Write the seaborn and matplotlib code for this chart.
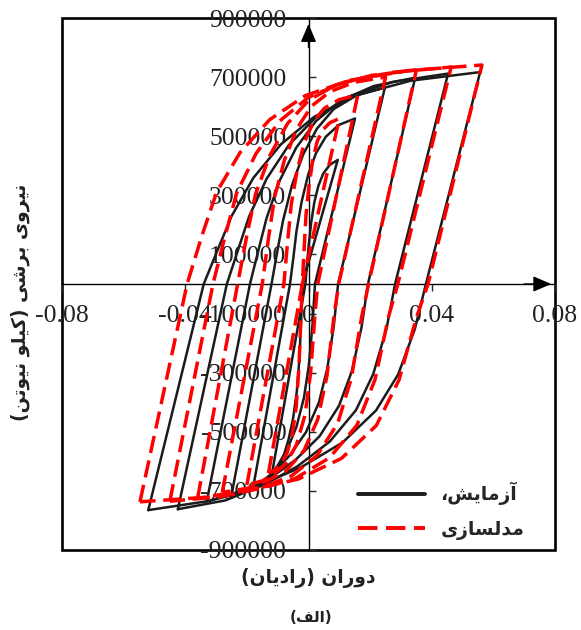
import numpy as np
import pandas as pd
import seaborn as sns
import matplotlib.pyplot as plt

# Hysteresis loops: rotation (rad) and shear force (x1000)
# each loop: negative peak -> up branch -> positive peak -> down branch -> negative peak
test_loops_x = [
    [-0.052, -0.034, -0.0295, -0.0250, -0.0179, -0.0089, 0.0019, 0.0153, 0.0333, 0.0557,
     0.0381, 0.0345, 0.0291, 0.0219, 0.0111, -0.0024, -0.0160, -0.0322, -0.052],
    [-0.0424, -0.0265, -0.0229, -0.0193, -0.0136, -0.0064, 0.0022, 0.0130, 0.0274, 0.0453,
     0.0281, 0.0253, 0.0210, 0.0154, 0.0069, -0.0036, -0.0142, -0.0269, -0.0424],
    [-0.0330, -0.0190, -0.0163, -0.0136, -0.0094, -0.0040, 0.0024, 0.0105, 0.0212, 0.0346,
     0.0193, 0.0172, 0.0141, 0.0099, 0.0036, -0.0042, -0.0121, -0.0215, -0.0330],
    [-0.0250, -0.0120, -0.0102, -0.0083, -0.0054, -0.0017, 0.0027, 0.0082, 0.0156, 0.0248,
     0.0096, 0.0082, 0.0061, 0.0034, -0.0008, -0.0060, -0.0112, -0.0174, -0.0250],
    [-0.0180, -0.0060, -0.0049, -0.0039, -0.0022, -0.0001, 0.0024, 0.0056, 0.0098, 0.0151,
     0.0021, 0.0013, 0.0001, -0.0015, -0.0039, -0.0069, -0.0100, -0.0136, -0.0180],
    [-0.0120, -0.0010, -0.0005, 0.0001, 0.0009, 0.0019, 0.0032, 0.0048, 0.0069, 0.0095,
     -0.0020, -0.0024, -0.0030, -0.0038, -0.0050, -0.0065, -0.0080, -0.0098, -0.0120],
]
test_loops_y = [
    [-765, 0, 115, 229, 359, 473, 566, 638, 688, 717, 0, -153, -306, -428, -536, -620, -681, -734, -765],
    [-762, 0, 114, 228, 356, 470, 562, 634, 684, 712, 0, -152, -305, -427, -533, -617, -678, -732, -762],
    [-735, 0, 112, 223, 349, 461, 551, 621, 670, 698, 0, -147, -294, -412, -515, -595, -654, -706, -735],
    [-715, 0, 106, 213, 333, 439, 525, 592, 638, 665, 0, -143, -286, -400, -501, -579, -636, -686, -715],
    [-690, 0, 90, 179, 280, 370, 442, 498, 538, 560, 0, -138, -276, -386, -483, -559, -614, -662, -690],
    [-650, 0, 67, 134, 210, 277, 332, 374, 403, 420, 0, -130, -260, -364, -455, -527, -579, -624, -650],
]
model_loops_x = [
    [-0.0547, -0.0394, -0.0346, -0.0298, -0.0222, -0.0126, -0.0011, 0.0132, 0.0324, 0.0563,
     0.0388, 0.0351, 0.0294, 0.0220, 0.0107, -0.0033, -0.0173, -0.0341, -0.0547],
    [-0.0450, -0.0310, -0.0271, -0.0233, -0.0171, -0.0094, -0.0001, 0.0115, 0.0270, 0.0463,
     0.0290, 0.0260, 0.0216, 0.0157, 0.0068, -0.0043, -0.0154, -0.0287, -0.0450],
    [-0.0360, -0.0230, -0.0201, -0.0172, -0.0126, -0.0068, 0.0002, 0.0089, 0.0205, 0.0350,
     0.0195, 0.0173, 0.0139, 0.0095, 0.0028, -0.0055, -0.0138, -0.0238, -0.0360],
    [-0.0280, -0.0150, -0.0130, -0.0110, -0.0078, -0.0038, 0.0010, 0.0070, 0.0150, 0.0250,
     0.0098, 0.0083, 0.0060, 0.0030, -0.0015, -0.0072, -0.0129, -0.0197, -0.0280],
    [-0.0200, -0.0080, -0.0068, -0.0056, -0.0037, -0.0013, 0.0016, 0.0052, 0.0100, 0.0160,
     0.0030, 0.0021, 0.0007, -0.0011, -0.0039, -0.0074, -0.0108, -0.0149, -0.0200],
    [-0.0130, -0.0020, -0.0014, -0.0008, 0.0002, 0.0014, 0.0028, 0.0046, 0.0070, 0.0100,
     -0.0020, -0.0024, -0.0031, -0.0040, -0.0053, -0.0070, -0.0086, -0.0106, -0.0130],
]
model_loops_y = [
    [-737, 0, 163, 311, 445, 556, 637, 689, 722, 741, 0, -111, -324, -479, -590, -660, -693, -722, -737],
    [-735, 0, 161, 308, 440, 551, 631, 683, 716, 734, 0, -110, -323, -478, -588, -658, -691, -720, -735],
    [-725, 0, 159, 304, 434, 543, 623, 673, 706, 724, 0, -109, -319, -471, -580, -649, -682, -711, -725],
    [-705, 0, 154, 294, 420, 525, 602, 651, 683, 700, 0, -106, -310, -458, -564, -631, -663, -691, -705],
    [-680, 0, 141, 269, 384, 480, 550, 595, 624, 640, 0, -102, -299, -442, -544, -609, -639, -666, -680],
    [-640, 0, 123, 235, 336, 420, 482, 521, 546, 560, 0, -96, -282, -416, -512, -573, -602, -627, -640],
]

x_ticks = [-0.08, -0.04, 0, 0.04, 0.08]
x_ticklabels = ['-0.08', '-0.04', '0', '0.04', '0.08']
y_ticks = [900000, 700000, 500000, 300000, 100000, -100000, -300000, -500000, -700000, -900000]

label_test = 'آزمایش،'
label_model = 'مدلسازی'
x_title = 'دوران (رادیان)'
y_title = 'نیروی برشی (کیلو نیوتن)'
caption = '(الف)'

# matplotlib has no arabic shaping, so pick presentation forms by hand
FORMS = {
    'ا': ('\uFE8D', '\uFE8E', None, None),
    'آ': ('\uFE81', '\uFE82', None, None),
    'ب': ('\uFE8F', '\uFE90', '\uFE91', '\uFE92'),
    'ت': ('\uFE95', '\uFE96', '\uFE97', '\uFE98'),
    'د': ('\uFEA9', '\uFEAA', None, None),
    'ر': ('\uFEAD', '\uFEAE', None, None),
    'ز': ('\uFEAF', '\uFEB0', None, None),
    'س': ('\uFEB1', '\uFEB2', '\uFEB3', '\uFEB4'),
    'ش': ('\uFEB5', '\uFEB6', '\uFEB7', '\uFEB8'),
    'ف': ('\uFED1', '\uFED2', '\uFED3', '\uFED4'),
    'ل': ('\uFEDD', '\uFEDE', '\uFEDF', '\uFEE0'),
    'م': ('\uFEE1', '\uFEE2', '\uFEE3', '\uFEE4'),
    'ن': ('\uFEE5', '\uFEE6', '\uFEE7', '\uFEE8'),
    'و': ('\uFEED', '\uFEEE', None, None),
    'ی': ('\uFBFC', '\uFBFD', '\uFBFE', '\uFBFF'),
    'ک': ('\uFB8E', '\uFB8F', '\uFB90', '\uFB91'),
}


def rtl(s):
    out = []
    for i, ch in enumerate(s):
        if ch not in FORMS:
            out.append(ch)
            continue
        prev = s[i - 1] if i > 0 else ''
        nxt = s[i + 1] if i + 1 < len(s) else ''
        iso, fin, ini, med = FORMS[ch]
        jp = prev in FORMS and FORMS[prev][2] is not None
        jn = ini is not None and nxt in FORMS
        if jp and jn:
            out.append(med)
        elif jp:
            out.append(fin)
        elif jn:
            out.append(ini)
        else:
            out.append(iso)
    mirror = {'(': ')', ')': '('}
    return ''.join(mirror.get(c, c) for c in reversed(out))


name_test = rtl(label_test)
name_model = rtl(label_model)

rows = []
for name, lx, ly in [(name_test, test_loops_x, test_loops_y),
                     (name_model, model_loops_x, model_loops_y)]:
    for k, (xs, ys) in enumerate(zip(lx, ly)):
        for j, (xv, yv) in enumerate(zip(xs, ys)):
            rows.append({'series': name, 'loop': k, 'step': j, 'rot': xv, 'shear': yv * 1000})
df = pd.DataFrame(rows)

sns.set_style('white')
plt.rcParams['axes.unicode_minus'] = False
serif = 'Liberation Serif'
fa = 'DejaVu Sans'

fig = plt.figure(figsize=(5.81, 6.30), dpi=100)
ax = fig.add_axes([62 / 581, 1 - 550 / 630, 493 / 581, 532 / 630])

sns.lineplot(data=df, x='rot', y='shear', hue='series', style='series', size='series',
             units='loop', estimator=None, sort=False, ax=ax,
             palette={name_test: '#1c1c1c', name_model: '#ff0000'},
             dashes={name_test: '', name_model: (5, 2.2)},
             sizes={name_test: 1.8, name_model: 2.5},
             zorder=3)

ax.set_xlim(-0.08, 0.08)
ax.set_ylim(-900000, 900000)
ax.set_xlabel('')
ax.set_ylabel('')

# axes through the origin, box frame drawn by the background patch
ax.spines['left'].set_position(('data', 0))
ax.spines['bottom'].set_position(('data', 0))
ax.spines['top'].set_visible(False)
ax.spines['right'].set_visible(False)
for s in ['left', 'bottom']:
    ax.spines[s].set_linewidth(1.0)
    ax.spines[s].set_color('black')
ax.patch.set_edgecolor('black')
ax.patch.set_linewidth(1.9)

ax.set_xticks(x_ticks)
ax.set_xticklabels(x_ticklabels)
ax.set_yticks(y_ticks)
ax.set_yticklabels([str(v) for v in y_ticks])
ax.tick_params(axis='x', direction='out', length=5, width=1, pad=10, labelsize=18.5,
               labelcolor='#222222', bottom=True)
ax.tick_params(axis='y', direction='in', length=5, width=1, pad=16, labelsize=18.5,
               labelcolor='#222222', left=True)
for lab in ax.get_xticklabels() + ax.get_yticklabels():
    lab.set_fontfamily(serif)

arrow = dict(arrowstyle='-|>,head_length=0.7,head_width=0.3', color='black', lw=1.0,
             mutation_scale=16, shrinkA=0, shrinkB=0)
ax.annotate('', xy=(0.0788, 0), xytext=(0.07, 0), arrowprops=arrow)
ax.annotate('', xy=(0, 880000), xytext=(0, 800000), arrowprops=arrow)

leg = ax.legend(loc='lower right', bbox_to_anchor=(0.972, -0.012), frameon=False,
                handlelength=3.6, prop={'family': fa, 'weight': 'bold', 'size': 13.5},
                labelspacing=0.75, handletextpad=0.8)
for h in leg.get_lines():
    h.set_linewidth(2.8)

fig.text(20 / 581, 1 - 302 / 630, rtl(y_title), rotation=90, ha='center', va='center',
         family=fa, fontweight='bold', fontsize=13.5, color='#222222')
fig.text(308 / 581, 1 - 578 / 630, rtl(x_title), ha='center', va='center',
         family=fa, fontweight='bold', fontsize=13.4, color='#222222')
fig.text(311 / 581, 1 - 617 / 630, rtl(caption), ha='center', va='center',
         family=fa, fontweight='bold', fontsize=11, color='#222222')

fig.savefig('out.png', dpi=100)
